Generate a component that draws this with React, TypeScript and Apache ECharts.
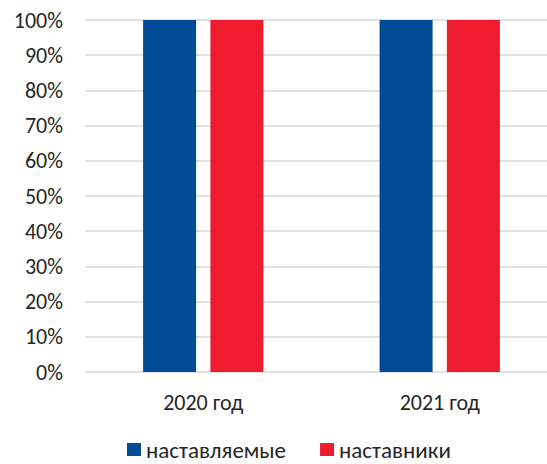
import React, { useEffect, useRef } from "react";
import * as echarts from "echarts";

const categories = ["2020 год", "2021 год"];
const seriesNames = ["наставляемые", "наставники"];
const menteesValues = [100, 100];
const mentorsValues = [100, 100];
const colors = ["#004C97", "#EE1C2E"];

export default function App() {
  const ref = useRef<HTMLDivElement>(null);
  useEffect(() => {
    const chart = echarts.init(ref.current!, null, { renderer: "svg" });
    const font = "Carlito, 'Open Sans', 'Liberation Sans', sans-serif";
    chart.setOption({
      animation: false,
      textStyle: { fontFamily: font },
      grid: { left: 85, top: 20, bottom: 92, right: 0, containLabel: false },
      legend: {
        top: 438,
        left: 127,
        padding: 0,
        itemWidth: 14,
        itemHeight: 13,
        itemGap: 34,
        icon: "rect",
        textStyle: { fontSize: 23, lineHeight: 22, color: "#262626", fontFamily: font },
        data: seriesNames,
      },
      xAxis: {
        type: "category",
        data: categories,
        axisLine: { show: false },
        axisTick: { show: false },
        axisLabel: { fontSize: 22, color: "#262626", margin: 19 },
      },
      yAxis: {
        type: "value",
        min: 0,
        max: 100,
        interval: 10,
        axisLabel: { fontSize: 22, color: "#262626", margin: 22, formatter: "{value}%" },
        splitLine: { lineStyle: { color: "#D9D9D9", width: 1.5 } },
        axisLine: { show: false },
        axisTick: { show: false },
      },
      series: [
        {
          name: seriesNames[0],
          type: "bar",
          data: menteesValues,
          barWidth: 53,
          barGap: "27%",
          itemStyle: { color: colors[0] },
        },
        {
          name: seriesNames[1],
          type: "bar",
          data: mentorsValues,
          barWidth: 53,
          itemStyle: { color: colors[1] },
        },
      ],
    });
    return () => chart.dispose();
  }, []);
  return (
    <div
      style={{ position: "fixed", left: 0, top: 0, width: 547, height: 464, overflow: "hidden", background: "#fff" }}
    >
      <div ref={ref} style={{ width: 558, height: 464 }} />
    </div>
  );
}
